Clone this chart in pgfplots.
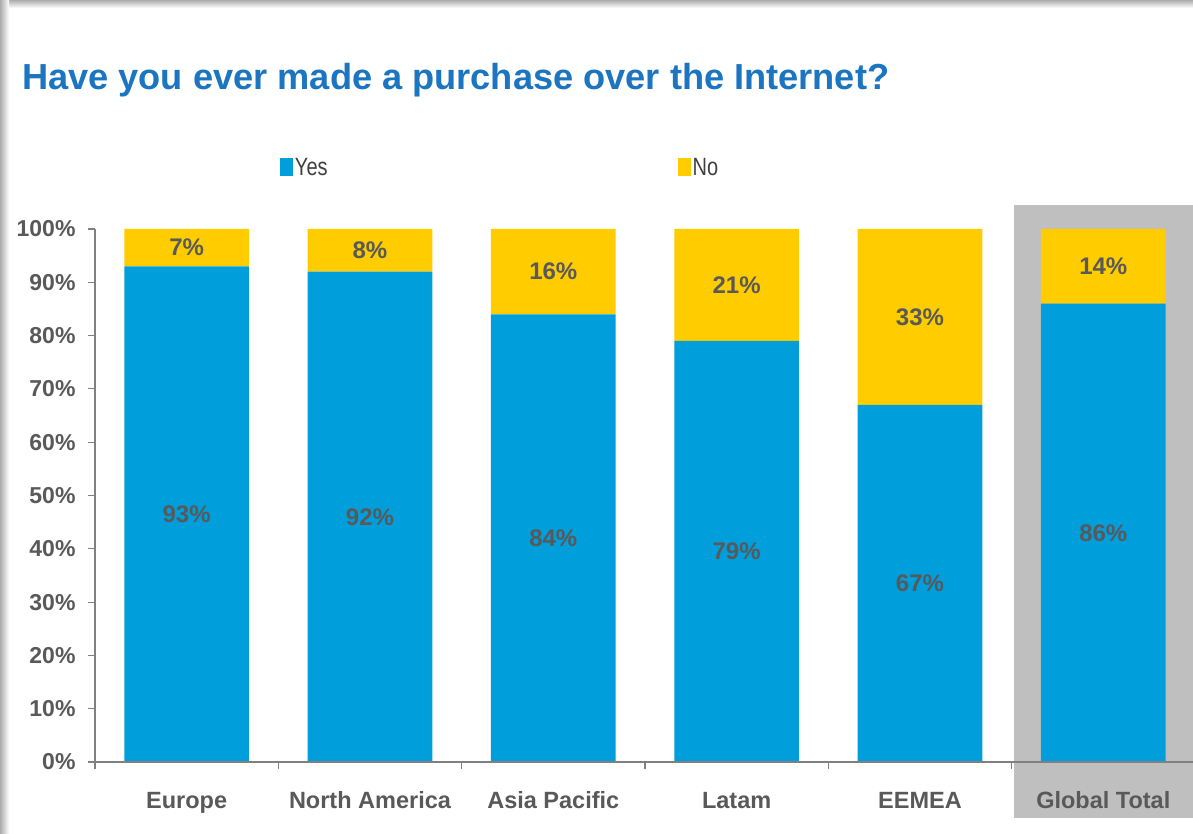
\documentclass[border=0pt]{standalone}
\usepackage{fontspec}
\setmainfont{Liberation Sans}
\newfontfamily\narrowfont[FakeStretch=0.8]{Liberation Sans}
\usepackage{pgfplots}
\pgfplotsset{compat=1.18}
\definecolor{barblue}{RGB}{0,158,219}
\definecolor{baryellow}{RGB}{255,204,0}
\definecolor{titleblue}{RGB}{27,117,192}
\definecolor{txtgrey}{RGB}{89,89,89}
\definecolor{legtxt}{RGB}{64,64,64}
\definecolor{bandgrey}{RGB}{191,191,191}
\definecolor{axgrey}{RGB}{128,128,128}
\begin{document}
\begin{tikzpicture}[x=1pt,y=1pt]
\path[use as bounding box] (0,0) rectangle (1193,833);
\fill[white] (0,0) rectangle (1193,833);
\shade[top color=gray!65, bottom color=white] (0,825) rectangle (1193,833);
\shade[left color=gray!65, right color=white] (0,0) rectangle (9,833);
\fill[bandgrey] (1014,15) rectangle (1200,628);
\node[anchor=base west, inner sep=0, text=titleblue,
      font=\fontsize{36.2}{40}\selectfont\bfseries] at (22,743)
      {Have you ever made a purchase over the Internet?};
\begin{axis}[
  at={(95pt,71pt)}, anchor=south west,
  scale only axis, width=1100pt, height=533pt,
  xmin=-0.5, xmax=5.5, ymin=0, ymax=100,
  clip=false, axis on top,
  ybar stacked, bar width=0.68,
  axis x line=bottom, axis y line=left,
  axis line style={-, draw=axgrey, line width=1.3pt},
  tick align=outside, major tick length=7pt,
  tick style={draw=axgrey, line width=1.1pt},
  ytick={0,10,...,100},
  yticklabel={\pgfmathprintnumber[assume math mode=true]{\tick}\%},
  yticklabel style={font=\fontsize{23}{26}\selectfont\bfseries, text=txtgrey, anchor=east, xshift=-9pt},
  xtick={-0.5,0.5,...,5.5},
  xticklabels={Europe,North America,Asia Pacific,Latam,EEMEA,Global Total,{}},
  xticklabel style={font=\fontsize{23.5}{26}\selectfont\bfseries, text=txtgrey, anchor=base, xshift=91.67pt, yshift=-39pt},
  point meta=rawy,
  nodes near coords={\pgfmathprintnumber[assume math mode=true]{\pgfplotspointmeta}\%},
  every node near coord/.append style={anchor=center,
     font=\fontsize{24}{26}\selectfont\bfseries, text=txtgrey},
  legend columns=2,
  legend style={at={(0.168,1.116)}, anchor=west, draw=none, fill=none, inner sep=0pt,
     font=\narrowfont\fontsize{25}{28}\selectfont, text=legtxt,
     /tikz/every even column/.append style={column sep=348pt}},
  legend image code/.code={\fill[#1] (0pt,-9pt) rectangle (13pt,9pt);},
]
\addplot[fill=barblue, draw=none] coordinates {(0,93) (1,92) (2,84) (3,79) (4,67) (5,86)};
\addlegendentry{Yes}
\addplot[fill=baryellow, draw=none] coordinates {(0,7) (1,8) (2,16) (3,21) (4,33) (5,14)};
\addlegendentry{No}
\end{axis}
\end{tikzpicture}
\end{document}
